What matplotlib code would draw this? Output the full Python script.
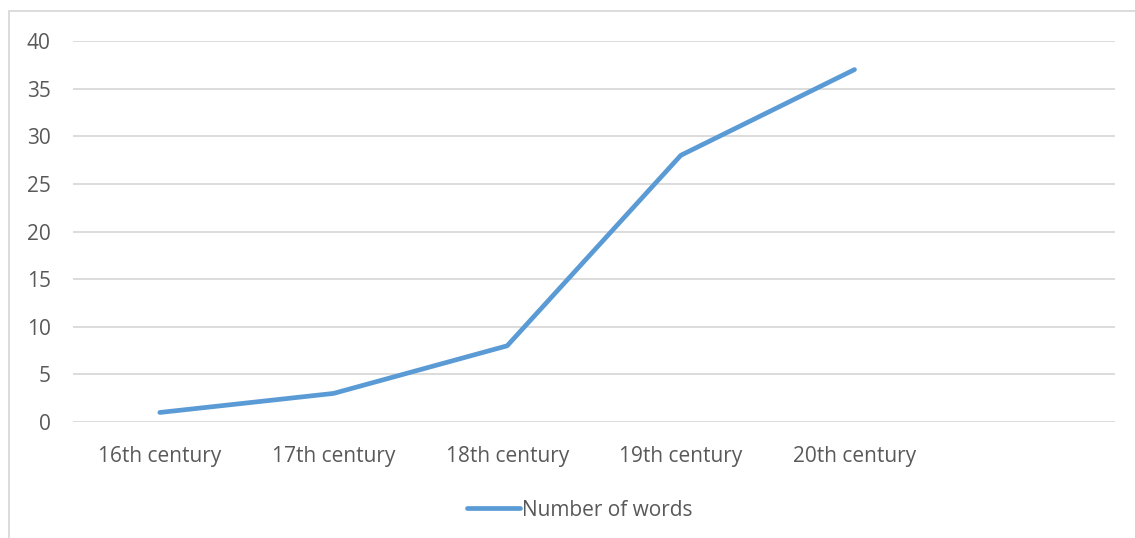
import matplotlib
matplotlib.use('Agg')
import matplotlib.pyplot as plt
from matplotlib.patches import Rectangle

centuries = ['16th century', '17th century', '18th century', '19th century', '20th century']
words = [1, 3, 8, 28, 37]
yticks = [0, 5, 10, 15, 20, 25, 30, 35, 40]

plt.rcParams['font.family'] = ['Open Sans', 'DejaVu Sans']
text_col = '#595959'
grid_col = '#D9D9D9'

fig = plt.figure(figsize=(11.35, 5.38), dpi=100)
ax = fig.add_axes([73/1135, 1 - 422/538, (1115 - 73)/1135, (422 - 41)/538])

x = list(range(len(centuries)))
ax.plot(x, words, color='#5B9BD5', linewidth=3.4, solid_capstyle='round',
        solid_joinstyle='round', label='Number of words')

ax.set_xlim(-0.5, 5.5)
ax.set_ylim(0, 40)
ax.set_yticks(yticks)
ax.set_xticks(x)
ax.set_xticklabels(centuries)
ax.grid(axis='y', color=grid_col, linewidth=1.3)
ax.set_axisbelow(True)
for s in ax.spines.values():
    s.set_visible(False)
ax.tick_params(axis='both', length=0, labelsize=15, labelcolor=text_col)
ax.tick_params(axis='y', pad=16)
ax.tick_params(axis='x', pad=17)

leg = fig.legend(loc='center', bbox_to_anchor=(580/1135, 1 - 510/538), frameon=False,
                 fontsize=15, handlelength=2.55, handletextpad=0.1)
for t in leg.get_texts():
    t.set_color(text_col)

# chart border (cropped at right and bottom)
fig.patches.append(Rectangle((9/1135, -0.1), 1.2, 1 - 11/538 + 0.1, transform=fig.transFigure,
                             fill=False, edgecolor=grid_col, linewidth=1.3))

fig.savefig('out.png', dpi=100)
